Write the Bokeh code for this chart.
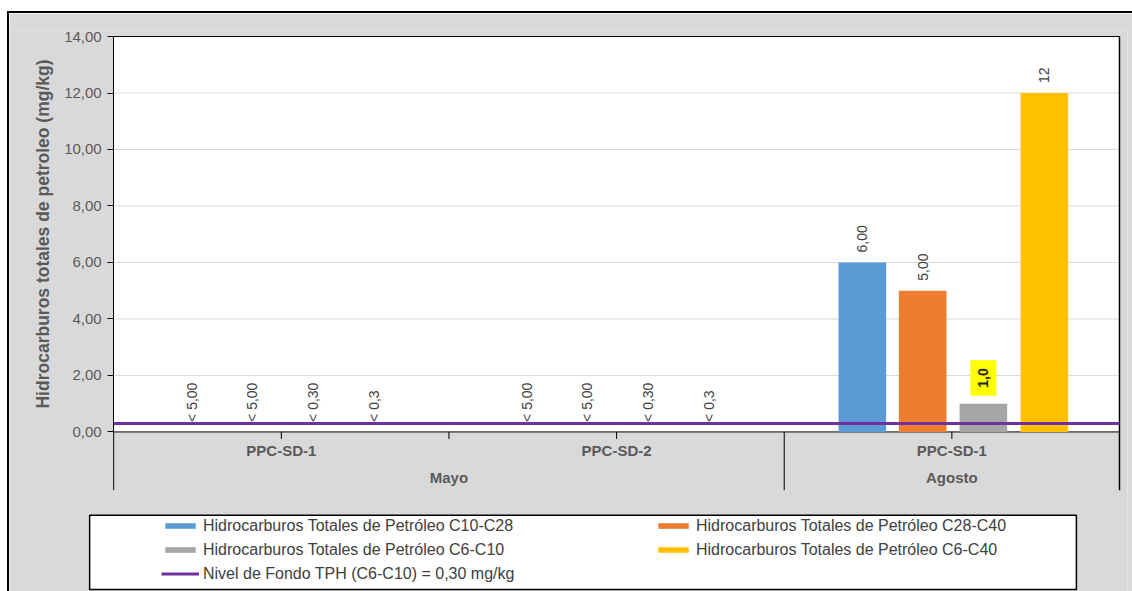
import math
from bokeh.plotting import figure
from bokeh.models import (Range1d, FixedTicker, BoxAnnotation, Legend, LegendItem,
                          ColumnDataSource)
from bokeh.core.properties import value
from bokeh.embed import file_html
from bokeh.resources import INLINE

# ---------------- data ----------------
months = ["Mayo", "Mayo", "Agosto"]
stations = ["PPC-SD-1", "PPC-SD-2", "PPC-SD-1"]

series_names = [
    "Hidrocarburos Totales de Petróleo C10-C28",
    "Hidrocarburos Totales de Petróleo C28-C40",
    "Hidrocarburos Totales de Petróleo C6-C10",
    "Hidrocarburos Totales de Petróleo C6-C40",
]
c10_c28 = [0.0, 0.0, 6.0]
c28_c40 = [0.0, 0.0, 5.0]
c6_c10 = [0.0, 0.0, 1.0]
c6_c40 = [0.0, 0.0, 12.0]

c10_c28_labels = ["< 5,00", "< 5,00", "6,00"]
c28_c40_labels = ["< 5,00", "< 5,00", "5,00"]
c6_c10_labels = ["< 0,30", "< 0,30", "1,0"]
c6_c40_labels = ["< 0,3", "< 0,3", "12"]
c6_c10_highlight = [False, False, True]

nivel_fondo = 0.30
nivel_label = "Nivel de Fondo TPH (C6-C10) = " + f"{nivel_fondo:.2f}".replace(".", ",") + " mg/kg"

y_ticks = [0, 2, 4, 6, 8, 10, 12, 14]
y_label = "Hidrocarburos totales de petroleo (mg/kg)"

# ---------------- style / layout ----------------
colors = ["#5B9BD5", "#ED7D31", "#A5A5A5", "#FFC000"]
nivel_color = "#7030A0"
offsets = [-0.267, -0.087, 0.094, 0.276]
bar_width = 0.142

FONT = "Liberation Sans"
GRAY_BG = "#D9D9D9"
TXT = "#595959"
LBL = "#404040"

# pixel geometry of the plot area (page pixels)
PX_LEFT, PX_RIGHT = 113, 1117      # category axis 0 .. n
PX_ZERO, PX_TOP = 430, 36          # y = 0 .. 14
n = len(months)
sx = (PX_RIGHT - PX_LEFT) / n
sy = (PX_ZERO - PX_TOP) / y_ticks[-1]
def xd(px): return (px - PX_LEFT) / sx
def yd(px): return (PX_ZERO - px) / sy

CANVAS_X, CANVAS_Y = 9, 13
FRAME_L, FRAME_R, FRAME_T, FRAME_B = 9, 1125, 30, 591
W, H = 1125, 580   # including 2px border (border-box)

axis_bottom = yd(488)
tick_len = 7 / sy

p = figure(width=W, height=H,
           x_range=Range1d(xd(FRAME_L), xd(FRAME_R)),
           y_range=Range1d(yd(FRAME_B), yd(FRAME_T)),
           output_backend="svg", toolbar_location=None,
           min_border_left=FRAME_L - CANVAS_X, min_border_top=FRAME_T - CANVAS_Y,
           min_border_right=1132 - FRAME_R, min_border_bottom=0)
p.styles = {"border-top": "2px solid black", "border-left": "2px solid black",
            "margin-top": "11px", "margin-left": "7px"}
p.background_fill_color = GRAY_BG
p.border_fill_color = GRAY_BG
p.outline_line_color = None
p.grid.visible = False
p.xaxis.visible = False

# white plot area
p.add_layout(BoxAnnotation(left=0, right=n, bottom=0, top=y_ticks[-1],
                           fill_color="white", fill_alpha=1, line_color=None,
                           level="underlay"))

# horizontal gridlines
g = y_ticks[1:-1]
p.segment(x0=[0] * len(g), x1=[n] * len(g), y0=g, y1=g, line_color="#D9D9D9", line_width=1)

# y axis at x = 0
ya = p.yaxis[0]
ya.fixed_location = 0
ya.bounds = (y_ticks[0], y_ticks[-1])
ya.ticker = FixedTicker(ticks=y_ticks)
ya.major_label_overrides = {t: f"{t:.2f}".replace(".", ",") for t in y_ticks}
ya.axis_label = y_label
ya.axis_label_text_font = FONT
ya.axis_label_text_font_style = "bold"
ya.axis_label_text_font_size = "17.5px"
ya.axis_label_text_color = TXT
ya.axis_label_standoff = 8
ya.major_label_text_font = FONT
ya.major_label_text_font_size = "15px"
ya.major_label_text_color = TXT
ya.major_label_standoff = 6
ya.major_tick_out = 6
ya.major_tick_in = 0
ya.minor_tick_line_color = None
ya.axis_line_color = "black"
ya.major_tick_line_color = "black"

# category axis (drawn from the category lists)
centers = [i + 0.5 for i in range(n)]
inner = [i for i in range(1, n) if months[i] == months[i - 1]]
month_breaks = [i for i in range(1, n) if months[i] != months[i - 1]]
# y-axis line continued through the category band
p.segment(x0=[0], x1=[0], y0=[axis_bottom], y1=[0], line_color="black", line_width=1)
p.segment(x0=[0], x1=[n], y0=[0], y1=[0], line_color="black", line_width=1)
p.segment(x0=[0], x1=[n], y0=[y_ticks[-1]], y1=[y_ticks[-1]], line_color="black", line_width=1)
p.segment(x0=[n], x1=[n], y0=[axis_bottom], y1=[y_ticks[-1]], line_color="black", line_width=1.5)
tk = centers + inner
p.segment(x0=tk, x1=tk, y0=[0] * len(tk), y1=[-tick_len] * len(tk), line_color="black", line_width=1)
p.segment(x0=month_breaks, x1=month_breaks, y0=[0] * len(month_breaks),
          y1=[axis_bottom] * len(month_breaks), line_color="black", line_width=1)

p.text(x=centers, y=[0] * n, text=stations, y_offset=19, text_align="center",
       text_baseline="middle", text_font=value(FONT), text_font_style="bold",
       text_font_size="15px", text_color=TXT)
groups = []
for i, m in enumerate(months):
    if not groups or groups[-1][0] != m:
        groups.append([m, i, i])
    else:
        groups[-1][2] = i
p.text(x=[(g0 + g1 + 1) / 2 for _, g0, g1 in groups], y=[0] * len(groups),
       text=[m for m, _, _ in groups], y_offset=46, text_align="center",
       text_baseline="middle", text_font=value(FONT), text_font_style="bold",
       text_font_size="15px", text_color=TXT)

# bars
values = [c10_c28, c28_c40, c6_c10, c6_c40]
labels = [c10_c28_labels, c28_c40_labels, c6_c10_labels, c6_c40_labels]
bar_renderers = []
for vals, col, off in zip(values, colors, offsets):
    src = ColumnDataSource(dict(x=[i + 0.5 + off for i in range(n)], top=vals))
    r = p.vbar(x="x", top="top", width=bar_width, source=src, fill_color=col, line_color=None)
    bar_renderers.append(r)

# background level line
nivel_r = p.segment(x0=[0], x1=[n], y0=[nivel_fondo], y1=[nivel_fondo],
                    line_color=nivel_color, line_width=3)

# data labels
for s, (vals, labs, off) in enumerate(zip(values, labels, offsets)):
    hl = c6_c10_highlight if s == 2 else [False] * n
    for flag in (False, True):
        idx = [k for k in range(n) if hl[k] == flag]
        if not idx:
            continue
        src = ColumnDataSource(dict(x=[k + 0.5 + off for k in idx], y=[vals[k] for k in idx],
                                    t=[labs[k] for k in idx]))
        if not flag:
            p.text(x="x", y="y", text="t", source=src, angle=math.pi / 2,
                   text_align="left", text_baseline="middle", y_offset=-10,
                   text_font=value(FONT), text_font_size="14px", text_color=LBL)
        else:
            p.text(x="x", y="y", text="t", source=src, angle=math.pi / 2,
                   text_align="left", text_baseline="middle", y_offset=-8,
                   text_font=value(FONT), text_font_size="14px", text_font_style="bold",
                   text_color="#262626", background_fill_color="#FFFF00", padding=8)

# legend box + legend (two columns, filled column by column)
p.add_layout(BoxAnnotation(left=xd(89), right=xd(1074), top=yd(513), bottom=yd(587),
                           fill_color="white", fill_alpha=1, line_color="black",
                           line_alpha=1, line_width=1.5))
all_items = [LegendItem(label=nm, renderers=[r]) for nm, r in zip(series_names, bar_renderers)]
all_items.append(LegendItem(label=nivel_label, renderers=[nivel_r]))
items = [all_items[0], all_items[2], all_items[4], all_items[1], all_items[3]]
legend = Legend(items=items, location=(161 - FRAME_L, 10), orientation="vertical", ncols=2,
                padding=0, margin=0, spacing=5,
                glyph_width=38, glyph_height=7, label_standoff=4,
                label_width=446, label_height=19,
                label_text_font=FONT, label_text_font_size="16px", label_text_color=LBL,
                border_line_color=None, background_fill_alpha=0)
p.add_layout(legend, "center")

open("out.html", "w").write(file_html(p, INLINE))
